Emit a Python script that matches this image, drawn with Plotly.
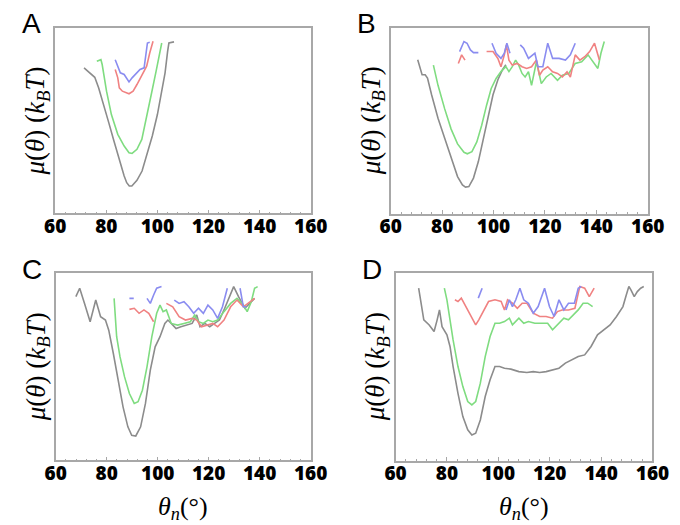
import plotly.graph_objects as go

# ---------------- data (theta_n in degrees, mu in arbitrary kBT units) ----------------
A_grey_x = [71.3, 72.5, 74, 75.5, 77, 79, 81, 83, 85, 87, 88, 89, 90, 91, 92, 94, 96, 98, 100, 102, 103, 104, 104.5, 106.5]
A_grey_y = [7.85, 7.70, 7.49, 7.34, 6.77, 5.87, 4.88, 3.90, 2.91, 2.01, 1.65, 1.47, 1.47, 1.60, 1.78, 2.28, 3.18, 4.17, 5.33, 6.77, 7.58, 8.74, 9.19, 9.25]
A_green_x = [76.3, 77.9, 78.4, 80.1, 82, 84.5, 87, 88.9, 90.1, 92, 93.9, 95.8, 97.6, 99.5, 100.8, 101.7]
A_green_y = [8.20, 8.29, 8.03, 6.59, 5.33, 4.26, 3.63, 3.27, 3.23, 3.45, 3.99, 5.15, 6.41, 7.67, 8.56, 9.19]
A_red_x = [83.5, 84.5, 85.1, 86.3, 88.9, 90.5, 92, 93.9, 95.8, 97, 98.3]
A_red_y = [7.76, 7.31, 6.77, 6.59, 6.45, 6.59, 6.95, 7.49, 7.94, 8.65, 9.28]
A_blue_x = [83.5, 84.5, 85.5, 87, 88.9, 90.1, 92, 93.2, 94.8, 95.5, 96.1, 97]
A_blue_y = [8.29, 7.94, 7.58, 7.49, 7.09, 7.31, 7.58, 7.76, 7.85, 8.56, 9.19, 9.23]

B_grey_x = [70.5, 71.5, 72.2, 73.4, 74.3, 75.9, 78.4, 81, 83.5, 86, 87.9, 89.1, 90.4, 92.2, 94.1, 96, 97.9, 99.8, 101.7, 103.5, 104.8]
B_grey_y = [8.29, 7.75, 7.48, 7.48, 7.30, 6.40, 5.14, 4.06, 2.98, 1.99, 1.54, 1.42, 1.45, 1.91, 2.80, 4.06, 5.32, 6.40, 7.21, 7.75, 8.02]
B_green_x = [76.6, 78.4, 81, 83.5, 86, 88.5, 89.8, 91.6, 93.5, 95.4, 97.3, 99.1, 101, 102.9, 104.8, 106, 107.3, 108.6, 109.8, 111.1, 112.3, 113.6, 114.8, 116.7, 118.6, 120.5, 122.4, 124.9, 126.8, 129.3, 131.8, 134.3, 136.8, 138.7, 140.6, 141.8, 143.1]
B_green_y = [8.00, 6.91, 5.64, 4.55, 3.75, 3.30, 3.22, 3.33, 3.86, 4.76, 5.84, 6.74, 7.28, 7.65, 7.92, 7.65, 7.92, 8.27, 8.00, 7.55, 7.36, 7.64, 6.91, 8.18, 7.00, 7.36, 7.55, 7.18, 7.45, 7.55, 8.09, 8.18, 8.55, 8.18, 7.82, 8.64, 9.27]
B_red_x = [86.3, 87.6, 88.9, None, 97.3, 99.8, 101.7, 102.9, 104.2, 105, 106, 107.3, 109.2, 111.1, 112.9, 114.8, 116.7, 117.9, 119.2, 121.1, 123, 124.9, 126.8, 128.6, 129.9, 131.8, 133.6, 135.5, 137.4, 139.3, 141.2]
B_red_y = [8.09, 8.55, 8.27, None, 8.73, 8.73, 8.36, 7.91, 8.55, 9.09, 8.27, 8.00, 8.09, 7.91, 7.82, 7.91, 8.27, 7.45, 7.73, 7.91, 7.64, 7.55, 7.36, 7.64, 7.36, 8.55, 8.27, 8.45, 8.73, 9.18, 8.27]
B_blue_x = [86.8, 88.5, 89.7, 91, 92.2, 94.1, None, 99.4, 101, 102.9, 104.2, 105.2, 106.4, None, 110.4, 111.7, 113.6, 116.1, 117.3, 119.2, 121.1, 123, 125.5, 128, 129.9, 131.8]
B_blue_y = [8.73, 9.27, 9.18, 8.82, 8.67, 8.67, None, 9.18, 8.64, 8.36, 8.64, 9.18, 8.64, None, 9.09, 8.91, 8.36, 8.64, 7.91, 7.91, 9.18, 8.36, 8.36, 8.27, 8.55, 9.18]

C_grey_x = [67.9, 69.4, 71.3, 73.5, 75.7, 77.6, 79.5, 80.8, 82.6, 84.5, 86.4, 88.3, 89.8, 91.4, 93.3, 95.2, 97.1, 99, 100.9, 102.8, 104, 105.3, 107.2, 109.1, 110.9, 113.5, 115.3, 116.6, 118.5, 120.4, 122.3, 124.2, 126, 127.9, 129.8, 131.7, 133, 134.2, 136.1, 138]
C_grey_y = [8.75, 9.20, 8.39, 7.41, 8.57, 7.68, 7.50, 6.96, 5.71, 4.29, 2.86, 1.79, 1.34, 1.30, 1.79, 3.04, 4.82, 6.07, 6.61, 7.32, 7.50, 7.32, 7.05, 7.14, 7.23, 7.32, 7.77, 7.14, 7.32, 7.14, 7.32, 7.50, 8.04, 8.66, 9.29, 8.75, 8.39, 8.13, 8.39, 8.66]
C_green_x = [82.9, 83.3, 83.9, 85.2, 87, 88.9, 90.8, 92.3, 94, 95.8, 97.7, 99.6, 100.9, 102.1, 103.4, 105.3, 107.8, 110.3, 112.8, 114.5, 116, 117.9, 119.7, 121.6, 123.5, 126, 128.6, 131.1, 133.6, 135.1, 136.7, 138, 139.2]
C_green_y = [8.66, 7.68, 6.61, 5.54, 4.46, 3.57, 3.04, 3.13, 3.75, 5.00, 6.61, 7.86, 8.30, 7.95, 8.04, 7.32, 7.23, 7.32, 7.41, 7.77, 7.41, 7.32, 7.50, 7.41, 7.50, 7.95, 8.39, 8.66, 8.30, 7.95, 8.48, 9.20, 9.29]
C_red_x = [88.9, 90.8, 92.7, 94.6, 96.5, 98.4, None, 103.4, 105.9, 108.4, 110.9, 113.5, 115.3, 117.2, 119.7, 121.6, 123.5, 126, 128.6, 131.1, 133.6, 135.5, 138]
C_red_y = [8.07, 8.13, 7.86, 8.04, 7.86, 7.41, None, 8.39, 8.21, 7.68, 7.50, 7.59, 7.50, 7.14, 7.23, 7.32, 7.14, 7.50, 8.21, 8.57, 8.21, 8.39, 8.66]
C_blue_x = [88.9, 90.6, None, 95.8, 97.1, 98.4, 99.6, 101.5, None, 106.5, 108.4, 110.3, 112.2, 114.1, 116, 117.9, 119.7, 121.6, 123.5, 125.4, 127.3, None, 132.3, 133.6, 134.8]
C_blue_y = [8.66, 8.66, None, 8.66, 8.39, 8.84, 9.20, 9.29, None, 8.57, 8.39, 8.48, 8.21, 7.86, 8.13, 7.86, 8.30, 8.04, 7.59, 8.21, 9.20, None, 9.20, 8.21, 8.21]

D_grey_x = [69, 70, 71, 73.1, 75, 76.2, 77.1, 78.1, 80, 81.2, 82.4, 84.3, 86.2, 88.1, 89.7, 91.2, 93, 94.9, 96.8, 98.7, 100.5, 102.4, 104.9, 108, 111.1, 113.6, 116.1, 118.6, 121.1, 123.6, 126.1, 128.6, 131.1, 133.6, 136.1, 138.6, 141, 143.5, 146, 148.5, 149.8, 150.8, 151.6, 152.9, 154.1, 155.4, 156.6]
D_grey_y = [9.20, 8.22, 7.51, 7.24, 6.89, 7.51, 8.04, 7.15, 6.71, 6.09, 5.02, 3.59, 2.35, 1.64, 1.37, 1.46, 2.17, 3.42, 4.31, 5.02, 5.02, 4.93, 4.88, 4.75, 4.70, 4.75, 4.70, 4.75, 4.84, 4.93, 5.20, 5.37, 5.55, 5.64, 6.09, 6.71, 6.98, 7.24, 7.69, 8.22, 8.84, 9.29, 9.11, 8.75, 9.02, 9.20, 9.29]
D_green_x = [79, 80, 81.2, 82.4, 84.3, 86.2, 88.1, 89.7, 91.2, 93, 94.9, 96.8, 98.7, 100.5, 102.4, 104.3, 105.5, 106.8, 108, 109.9, 111.7, 114.2, 116.7, 119.2, 121.1, 123, 125.5, 127.3, 129.2, 131.1, 133, 134.8, 136.7]
D_green_y = [9.20, 8.58, 7.51, 6.44, 5.02, 3.95, 3.15, 2.97, 3.15, 4.13, 5.55, 6.62, 7.33, 7.33, 7.42, 7.60, 7.24, 7.42, 7.60, 7.33, 7.42, 7.33, 7.33, 7.33, 6.98, 7.24, 7.60, 7.51, 7.78, 8.04, 8.40, 8.40, 8.22]
D_red_x = [83.1, 84.3, 85.6, 87.4, 89.3, 91.2, 92.4, 94.3, 96.2, 98.7, 101.1, 102.4, 103.6, 105.5, 107.4, 109.3, 111.1, 113.6, 116.1, 118.6, 121.1, 123, 124.8, 127.3, 129.8, 131.7, 133.6, 135.4, 137.3]
D_red_y = [8.58, 8.49, 8.67, 8.22, 7.69, 7.24, 7.51, 8.04, 8.49, 8.58, 8.49, 8.04, 8.58, 8.40, 8.13, 8.40, 8.40, 7.87, 7.69, 7.69, 7.60, 7.95, 8.04, 8.04, 8.13, 9.29, 9.20, 8.75, 9.20]
D_blue_x = [92.2, 93.7, None, 103, 104.3, 105.5, 106.8, 108.4, 109.9, 111.7, 113.6, 115.5, 118, 119.9, 121.7, 123.6, 125.5, 127.3, 129.6, 131.1, 132.3]
D_blue_y = [8.67, 9.20, None, 8.04, 8.58, 8.22, 8.58, 9.20, 8.58, 8.40, 7.87, 8.22, 9.20, 8.22, 7.69, 8.58, 8.04, 8.40, 8.40, 9.20, 9.29]

panel_letters = ["A", "B", "C", "D"]
x_tickvals = [60, 80, 100, 120, 140, 160]
x_ticktext = ["60", "80", "100", "120", "140", "160"]

# ---------------- styling ----------------
GREY = "#8c8c8c"
GREEN = "#7fdc80"
RED = "#f08282"
BLUE = "#8a8cf0"
FRAME = "#a8a8a8"

panels = [
    dict(series=[(A_grey_x, A_grey_y, GREY), (A_green_x, A_green_y, GREEN), (A_red_x, A_red_y, RED), (A_blue_x, A_blue_y, BLUE)],
         px=(37.7, 304.3), py=(20.0, 205.3)),
    dict(series=[(B_grey_x, B_grey_y, GREY), (B_green_x, B_green_y, GREEN), (B_red_x, B_red_y, RED), (B_blue_x, B_blue_y, BLUE)],
         px=(387.7, 655.7), py=(20.0, 205.5)),
    dict(series=[(C_grey_x, C_grey_y, GREY), (C_green_x, C_green_y, GREEN), (C_red_x, C_red_y, RED), (C_blue_x, C_blue_y, BLUE)],
         px=(38.3, 304.2), py=(265.3, 452.3)),
    dict(series=[(D_grey_x, D_grey_y, GREY), (D_green_x, D_green_y, GREEN), (D_red_x, D_red_y, RED), (D_blue_x, D_blue_y, BLUE)],
         px=(392.7, 660.7), py=(265.2, 452.6)),
]

W, H = 680, 525
fig = go.Figure()
layout = dict(
    width=W, height=H, margin=dict(l=0, r=0, t=0, b=0),
    paper_bgcolor="white", plot_bgcolor="white", showlegend=False,
    annotations=[],
)

for i, p in enumerate(panels):
    n = "" if i == 0 else str(i + 1)
    for xs, ys, col in p["series"]:
        fig.add_trace(go.Scatter(x=xs, y=ys, mode="lines", line=dict(color=col, width=1.6),
                                 connectgaps=False, hoverinfo="skip",
                                 xaxis="x" + n, yaxis="y" + n))
    x0, x1 = p["px"]
    y0, y1 = p["py"]
    layout["xaxis" + n] = dict(
        domain=[x0 / W, x1 / W], range=[60, 160], anchor="y" + n,
        tickvals=x_tickvals, ticktext=x_ticktext,
        ticks="inside", ticklen=4, tickwidth=1, tickcolor=FRAME,
        minor=dict(dtick=4, tick0=60, ticks="inside", ticklen=2, tickwidth=1, tickcolor=FRAME),
        showline=True, linecolor=FRAME, linewidth=1.5, mirror=True,
        showgrid=False, zeroline=False,
        tickfont=dict(family="Open Sans", size=19, color="black", weight=800),
        ticklabelstandoff=-5,
    )
    layout["yaxis" + n] = dict(
        domain=[1 - y1 / H, 1 - y0 / H], range=[0, 10], anchor="x" + n,
        showticklabels=False, ticks="", showline=True, linecolor=FRAME, linewidth=1.5,
        mirror=True, showgrid=False, zeroline=False,
    )
    # y-axis label
    layout["annotations"].append(dict(
        text="<i>μ</i>(<i>θ</i>) (<i>k</i><sub><i>B</i></sub><i>T</i>)",
        xref="paper", yref="paper", x=(x0 - 19) / W, y=1 - (y0 + y1) / 2 / H,
        xanchor="center", yanchor="middle", textangle=-90, showarrow=False,
        font=dict(family="Liberation Serif, Times New Roman, serif", size=27, color="black"),
    ))
    # panel letter
    layout["annotations"].append(dict(
        text=panel_letters[i], xref="paper", yref="paper",
        x=(x0 - 25) / W, y=1 - (y0 - 4) / H, xanchor="center", yanchor="middle",
        showarrow=False, font=dict(family="Liberation Sans, Arial, sans-serif", size=28, color="black"),
    ))
    if i >= 2:
        layout["annotations"].append(dict(
            text="<i>θ<sub>n</sub></i>(°)", xref="paper", yref="paper",
            x=(x0 + x1) / 2 / W, y=1 - 500 / H, xanchor="center", yanchor="middle",
            showarrow=False, font=dict(family="Liberation Serif, Times New Roman, serif", size=26, color="black"),
        ))

fig.update_layout(**layout)
fig.write_html("out.html")
